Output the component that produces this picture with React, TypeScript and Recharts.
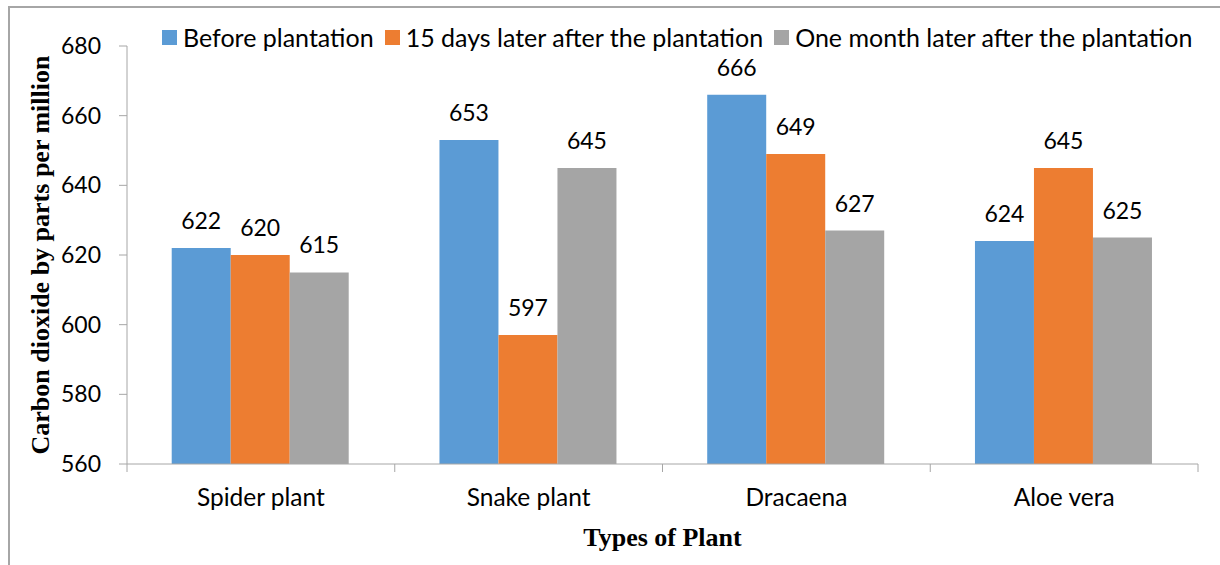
import { BarChart, Bar, XAxis, YAxis, Legend, LabelList } from "recharts";

const plants = ["Spider plant", "Snake plant", "Dracaena", "Aloe vera"];
const beforePlantation = [622, 653, 666, 624];
const after15Days = [620, 597, 649, 645];
const afterOneMonth = [615, 645, 627, 625];
const seriesNames = [
  "Before plantation",
  "15 days later after the plantation",
  "One month later after the plantation",
];
const yTicks = [560, 580, 600, 620, 640, 660, 680];

const data = plants.map((plant, i) => ({
  plant,
  before: beforePlantation[i],
  days15: after15Days[i],
  month: afterOneMonth[i],
}));

const keys = ["before", "days15", "month"];
const colors = ["#5b9bd5", "#ed7d31", "#a5a5a5"];

const W = 1220;
const H = 565;
const margin = { top: 46, right: 22, bottom: 0, left: 42 };
const Y_AXIS_W = 85;
const X_AXIS_H = 101;
const AXIS = "#a6a6a6";
const FONT = "Lato, sans-serif";
const SERIF = "'Liberation Serif', 'Times New Roman', serif";
const band = (W - margin.left - margin.right - Y_AXIS_W) / plants.length;
const axisY = H - margin.bottom - X_AXIS_H;

function PlantTick(props: any) {
  const { x, payload, index } = props;
  const half = band / 2;
  return (
    <g>
      <line x1={x - half} x2={x - half} y1={axisY} y2={axisY + 8} stroke={AXIS} />
      {index === plants.length - 1 && (
        <line x1={x + half} x2={x + half} y1={axisY} y2={axisY + 8} stroke={AXIS} />
      )}
      <text x={x} y={axisY + 42} textAnchor="middle" fill="#000" fontSize={24.5} fontFamily={FONT}>
        {payload.value}
      </text>
    </g>
  );
}

function LegendContent() {
  return (
    <div style={{ display: "flex", alignItems: "center", fontFamily: FONT, fontSize: 25, color: "#000", lineHeight: 1 }}>
      {seriesNames.map((name, i) => (
        <div key={name} style={{ display: "flex", alignItems: "center", marginRight: 11 }}>
          <span style={{ width: 15, height: 15, background: colors[i], marginRight: 6, display: "inline-block" }} />
          <span>{name}</span>
        </div>
      ))}
    </div>
  );
}

export default function App() {
  return (
    <div style={{ position: "absolute", left: 0, top: 0, width: W, height: H, overflow: "hidden", background: "#fff" }}>
      <div
        style={{
          position: "absolute",
          left: 8,
          top: 6,
          width: W,
          height: H,
          borderTop: `2px solid ${AXIS}`,
          borderLeft: `2px solid ${AXIS}`,
        }}
      />
      <BarChart width={W} height={H} data={data} margin={margin} barCategoryGap="16.7%" barGap={0}>
        <XAxis
          dataKey="plant"
          height={X_AXIS_H}
          tickLine={false}
          tickSize={8}
          tickMargin={0}
          interval={0}
          axisLine={{ stroke: AXIS }}
          tick={<PlantTick />}
          label={{
            value: "Types of Plant",
            position: "insideBottom",
            offset: 19,
            fill: "#000",
            fontSize: 26,
            fontWeight: "bold",
            fontFamily: SERIF,
          }}
        />
        <YAxis
          width={Y_AXIS_W}
          domain={[560, 680]}
          ticks={yTicks}
          interval={0}
          tickSize={8}
          tickMargin={18}
          axisLine={{ stroke: AXIS }}
          tickLine={{ stroke: AXIS }}
          tick={{ fill: "#000", fontSize: 23, fontFamily: FONT }}
          label={{
            value: "Carbon dioxide by parts per million",
            angle: -90,
            position: "insideLeft",
            offset: -2,
            fill: "#000",
            fontSize: 26,
            fontWeight: "bold",
            fontFamily: SERIF,
            style: { textAnchor: "middle" },
          }}
        />
        <Legend
          verticalAlign="middle"
          layout="horizontal"
          wrapperStyle={{ top: 25, left: 162, width: 1058 }}
          content={<LegendContent />}
        />
        {keys.map((k, i) => (
          <Bar key={k} dataKey={k} name={seriesNames[i]} fill={colors[i]} isAnimationActive={false}>
            <LabelList dataKey={k} position="top" offset={19} fill="#000" fontSize={23} fontFamily={FONT} />
          </Bar>
        ))}
      </BarChart>
    </div>
  );
}
